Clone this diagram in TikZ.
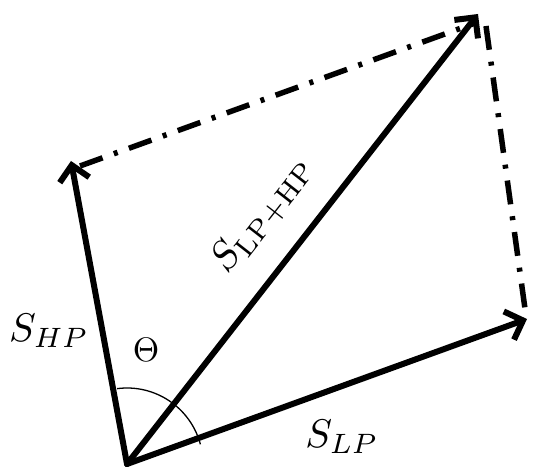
\documentclass[tikz,border=0pt]{standalone}
\usepackage{graphicx}
\usetikzlibrary{arrows.meta}
\begin{document}
\begin{tikzpicture}[x=1pt,y=1pt,
  vec/.style={line width=6pt,line cap=round,-{Straight Barb[length=15pt,width=30pt,line width=6pt]}},
  dd/.style={line width=5.5pt,dash pattern=on 24pt off 12pt on 4pt off 12pt},
  lbl/.style={inner sep=0pt}]
\useasboundingbox (0,0) rectangle (533,471);
\coordinate (O) at (127,7);
\coordinate (HP) at (71,310);
\coordinate (LP) at (527,152);
\coordinate (SUM) at (478,457);
\coordinate (d1) at (80,305);
\coordinate (d2) at (478,449);
\coordinate (d3) at (486,445);
\coordinate (d4) at (526,155);
\draw[vec] (O) -- (HP);
\draw[vec] (O) -- (LP);
\draw[vec] (O) -- (SUM);
\draw[dd] (d1) -- (d2);
\draw[dd] (d3) -- (d4);
\draw[line width=1.3pt] ([shift={(97.5:76)}]O) arc[start angle=97.5,end angle=15,radius=76];
\node[lbl] (shp) at (49,140) {\scalebox{4}{$S_{HP}$}};
\node[lbl] (slp) at (342,34) {\scalebox{4}{$S_{LP}$}};
\node[lbl,rotate=52] (ssum) at (263,256) {\scalebox{4}{$S_{\mathrm{LP+HP}}$}};
\node[lbl] (th) at (146,121) {\scalebox{3.4}{$\Theta$}};
\end{tikzpicture}
\end{document}
